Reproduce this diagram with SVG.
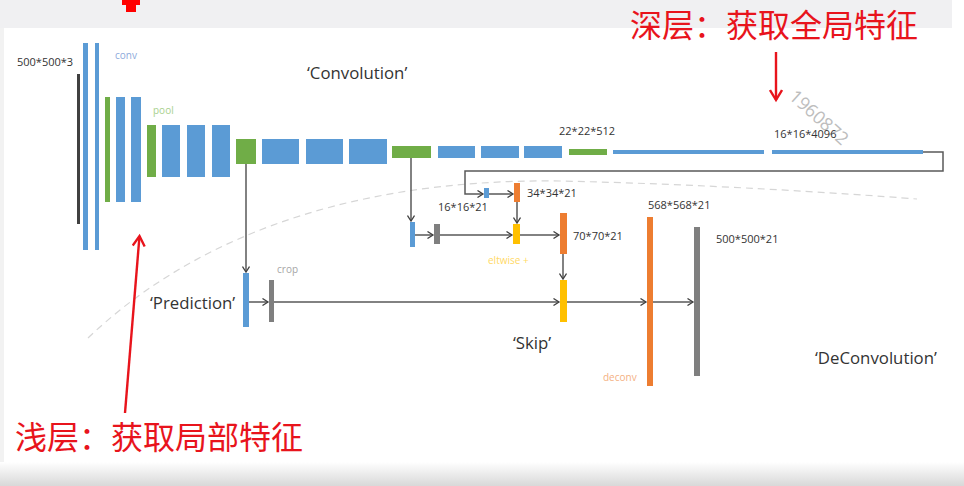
<svg xmlns="http://www.w3.org/2000/svg" width="964" height="486" viewBox="0 0 964 486">
<defs>
<marker id="arr" markerWidth="8" markerHeight="8" refX="6.5" refY="4" orient="auto" markerUnits="userSpaceOnUse">
<path d="M1,0.5 L6.5,4 L1,7.5" fill="none" stroke="#404040" stroke-width="1.3"/>
</marker>
<marker id="rarr" markerWidth="14" markerHeight="14" refX="11" refY="7" orient="auto" markerUnits="userSpaceOnUse">
<path d="M1,1 L11,7 L1,13" fill="none" stroke="#e8141c" stroke-width="2.4"/>
</marker>
<linearGradient id="bot" x1="0" y1="0" x2="0" y2="1">
<stop offset="0" stop-color="#ffffff"/>
<stop offset="1" stop-color="#d8d8d8"/>
</linearGradient>
</defs>
<style>
.b{fill:#5b9bd5}.g{fill:#70ad47}.o{fill:#ed7d31}.y{fill:#ffc000}.k{fill:#7f7f7f}.d{fill:#404040}
.t{font-family:"Open Sans","Liberation Sans",sans-serif;font-size:11px;fill:#333}
.L{font-family:"Open Sans","Liberation Sans",sans-serif;font-size:16.8px;fill:#333}
.s{font-family:"Open Sans","Liberation Sans",sans-serif;font-size:10px}
.r{font-family:"Noto Sans CJK SC","Noto Sans CJK JP",sans-serif;font-size:32px;fill:#e8141c}
.c{fill:none;stroke:#595959;stroke-width:1.5}
</style>
<rect width="964" height="486" fill="#ffffff"/>
<rect x="0" y="0" width="952" height="28" fill="#f0f0f2"/>
<rect x="0" y="28" width="4" height="435" fill="#f2f2f2"/>
<rect x="0" y="462" width="964" height="24" fill="url(#bot)"/>
<path d="M122,0 H140 V5 H136 V12 H126 V5 H122 Z" fill="#ff0000"/>

<path d="M88,338 C180,250 330,178 560,181 C700,184 840,193 917,199" fill="none" stroke="#d6d6d6" stroke-width="1.2" stroke-dasharray="7,5"/>

<text x="788" y="98" transform="rotate(42 788 98)" font-family="Open Sans, Liberation Sans, sans-serif" font-size="18" fill="#bdbdbd">1960872</text>

<g id="conv1">
<rect class="d" x="77" y="74" width="3" height="150"/>
<rect class="b" x="83" y="43" width="5" height="207"/>
<rect class="b" x="95" y="43" width="4" height="207"/>
</g>
<g id="pool1"><rect class="g" x="105" y="97" width="5" height="105"/></g>
<g id="conv2">
<rect class="b" x="116" y="97" width="9" height="105"/>
<rect class="b" x="131" y="97" width="10" height="105"/>
</g>
<g id="pool2"><rect class="g" x="147" y="125" width="9" height="52"/></g>
<g id="conv3">
<rect class="b" x="162" y="125" width="18" height="52"/>
<rect class="b" x="187" y="125" width="18" height="52"/>
<rect class="b" x="212" y="125" width="18" height="52"/>
</g>
<g id="pool3"><rect class="g" x="236" y="139" width="20" height="25"/></g>
<g id="conv4">
<rect class="b" x="262" y="139" width="37" height="25"/>
<rect class="b" x="306" y="139" width="37" height="25"/>
<rect class="b" x="349" y="139" width="38" height="25"/>
</g>
<g id="pool4"><rect class="g" x="392" y="146" width="39" height="12"/></g>
<g id="conv5">
<rect class="b" x="438" y="146" width="37" height="12"/>
<rect class="b" x="481" y="146" width="38" height="12"/>
<rect class="b" x="524" y="146" width="38" height="12"/>
</g>
<g id="pool5"><rect class="g" x="569" y="149" width="38" height="6"/></g>
<g id="fc">
<rect class="b" x="613" y="150" width="151" height="4"/>
<rect class="b" x="772" y="150" width="151" height="4"/>
</g>

<g id="score32"><rect class="b" x="484" y="188" width="5" height="10"/></g>
<g id="up34"><rect class="o" x="514" y="183" width="6" height="19"/></g>
<g id="score16"><rect class="b" x="410" y="222" width="5" height="25"/></g>
<g id="crop16"><rect class="k" x="434" y="224" width="6" height="20"/></g>
<g id="sum16"><rect class="y" x="513" y="224" width="7" height="20"/></g>
<g id="up70"><rect class="o" x="560" y="213" width="7" height="41"/></g>
<g id="score8"><rect class="b" x="243" y="273" width="6" height="54"/></g>
<g id="crop8"><rect class="k" x="269" y="280" width="5" height="42"/></g>
<g id="sum8"><rect class="y" x="560" y="280" width="7" height="42"/></g>
<g id="deconv"><rect class="o" x="647" y="217" width="6" height="169"/></g>
<g id="out"><rect class="k" x="694" y="227" width="6" height="149"/></g>

<g id="connectors">
<path class="c" d="M923,152 H943 V171 H465 V194 H483" marker-end="url(#arr)"/>
<path class="c" d="M489,194 H513" marker-end="url(#arr)"/>
<path class="c" d="M517,202 V223" marker-end="url(#arr)"/>
<path class="c" d="M411,158 V221" marker-end="url(#arr)"/>
<path class="c" d="M415,235 H433" marker-end="url(#arr)"/>
<path class="c" d="M440,235 H512" marker-end="url(#arr)"/>
<path class="c" d="M520,235 H559" marker-end="url(#arr)"/>
<path class="c" d="M563,254 V279" marker-end="url(#arr)"/>
<path class="c" d="M246,164 V272" marker-end="url(#arr)"/>
<path class="c" d="M249,302 H268" marker-end="url(#arr)"/>
<path class="c" d="M274,302 H559" marker-end="url(#arr)"/>
<path class="c" d="M567,302 H646" marker-end="url(#arr)"/>
<path class="c" d="M653,302 H693" marker-end="url(#arr)"/>
</g>

<text class="t" x="17" y="66">500*500*3</text>
<text class="s" x="115" y="59" fill="#8eaadb">conv</text>
<text class="s" x="153" y="114" fill="#a9d18e">pool</text>
<text class="L" x="307" y="79">‘Convolution’</text>
<text class="t" x="559" y="135">22*22*512</text>
<text class="t" x="774" y="138">16*16*4096</text>
<text class="t" x="438" y="211">16*16*21</text>
<text class="t" x="527" y="197">34*34*21</text>
<text class="t" x="573" y="240">70*70*21</text>
<text class="s" x="488" y="264" fill="#ffd966">eltwise +</text>
<text class="t" x="648" y="209">568*568*21</text>
<text class="t" x="716" y="243">500*500*21</text>
<text class="s" x="277" y="273" fill="#a6a6a6">crop</text>
<text class="L" x="150" y="309">‘Prediction’</text>
<text class="L" x="513" y="349">‘Skip’</text>
<text class="s" x="603" y="381" fill="#f4b183">deconv</text>
<text class="L" x="815" y="364">‘DeConvolution’</text>

<text class="r" x="630" y="37">深层：获取全局特征</text>
<path d="M776,52 V100" stroke="#e8141c" stroke-width="2.4" fill="none" marker-end="url(#rarr)"/>
<text class="r" x="15" y="449">浅层：获取局部特征</text>
<path d="M125,413 L139.5,236" stroke="#e8141c" stroke-width="2.4" fill="none" marker-end="url(#rarr)"/>
</svg>
